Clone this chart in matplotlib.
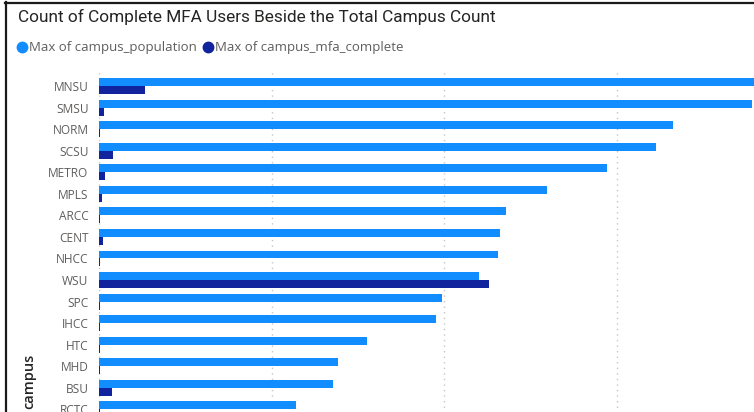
import matplotlib
matplotlib.use("Agg")
import matplotlib.pyplot as plt
from matplotlib.lines import Line2D
import numpy as np

campuses = ["MNSU", "SMSU", "NORM", "SCSU", "METRO", "MPLS", "ARCC", "CENT",
            "NHCC", "WSU", "SPC", "IHCC", "HTC", "MHD", "BSU", "RCTC"]
campus_population = [38500, 37830, 33260, 32270, 29430, 25960, 23580, 23230,
                     23120, 22020, 19870, 19520, 15530, 13850, 13560, 11410]
campus_mfa_complete = [2670, 290, 60, 810, 350, 170, 60, 230,
                       60, 22600, 60, 60, 60, 60, 750, 60]
grid_ticks = [0, 10000, 20000, 30000]

W, H = 754, 412
fig = plt.figure(figsize=(W / 100, H / 100), dpi=100)
fig.patch.set_facecolor("white")

def fx(px):
    return px / W

def fy(py):
    return 1 - py / H

# axes extends past the figure edges (the reference is a cropped screenshot)
left_px, right_px, top_px, bot_px = 99, 800, 72, 450
ax = fig.add_axes([fx(left_px), fy(bot_px), fx(right_px - left_px), (bot_px - top_px) / H])
row_px = 21.56
first_px = 86
ax.set_ylim((bot_px - first_px) / row_px, (top_px - first_px) / row_px)
ax.set_xlim(0, (right_px - left_px) / 172.6 * 10000)

pop_col = "#118DFF"
mfa_col = "#12239E"
y = np.arange(len(campuses))
h = 0.37
ax.barh(y - h / 2, campus_population, height=h, color=pop_col, zorder=3)
ax.barh(y + h / 2, campus_mfa_complete, height=h, color=mfa_col, zorder=3)

for t in grid_ticks:
    ax.axvline(t, color="#C8C6C4", linestyle=(0, (1, 3)), linewidth=1, zorder=1)

ax.set_yticks(y)
ax.set_yticklabels(campuses)
ax.tick_params(axis="y", length=0, pad=7.5, labelsize=8.6, labelcolor="#605E5C")
ax.set_xticks([])
for s in ax.spines.values():
    s.set_visible(False)
for lbl in ax.get_yticklabels():
    lbl.set_fontfamily("Open Sans")

# title
fig.text(fx(18), fy(17), "Count of Complete MFA Users Beside the Total Campus Count",
         fontsize=12.4, color="#252423", family="Roboto", ha="left", va="center")

# legend
leg_y = fy(47)
fig.add_artist(Line2D([fx(22)], [leg_y], marker="o", markersize=7.5, color=pop_col,
                      linestyle="none", transform=fig.transFigure))
fig.text(fx(29), leg_y, "Max of campus_population", fontsize=9.5, color="#605E5C",
         family="Open Sans", ha="left", va="center")
fig.add_artist(Line2D([fx(208)], [leg_y], marker="o", markersize=7.5, color=mfa_col,
                      linestyle="none", transform=fig.transFigure))
fig.text(fx(215), leg_y, "Max of campus_mfa_complete", fontsize=9.5, color="#605E5C",
         family="Open Sans", ha="left", va="center")

# axis title
fig.text(fx(29), fy(409), "campus", fontsize=10.5, color="#252423", family="Open Sans",
         fontweight="semibold", rotation=90, ha="center", va="bottom")

# screenshot border
fig.add_artist(Line2D([fx(5), fx(754)], [fy(2.5), fy(2.5)], color="#1a1a1a",
                      linewidth=1.6, transform=fig.transFigure))
fig.add_artist(Line2D([fx(5.5), fx(5.5)], [fy(2), fy(412)], color="#1a1a1a",
                      linewidth=1.6, transform=fig.transFigure))

fig.savefig("out.png", dpi=100)
